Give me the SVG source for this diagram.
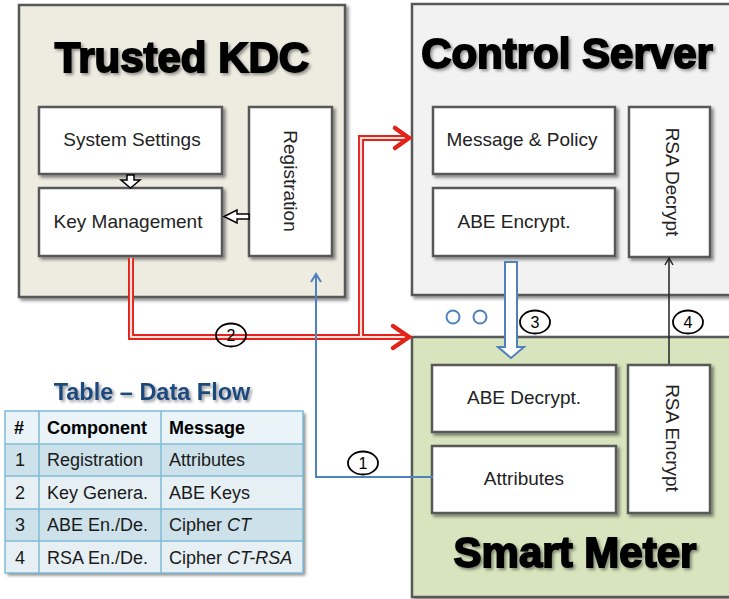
<svg xmlns="http://www.w3.org/2000/svg" width="729" height="599" viewBox="0 0 729 599">
<defs>
<filter id="sh" x="-10%" y="-10%" width="130%" height="130%">
<feDropShadow dx="2.5" dy="2.5" stdDeviation="1.5" flood-color="#000" flood-opacity="0.45"/>
</filter>
<filter id="tsh" x="-10%" y="-20%" width="130%" height="150%">
<feDropShadow dx="2" dy="2" stdDeviation="1.5" flood-color="#000" flood-opacity="0.4"/>
</filter>
<style>
.big{fill:#eeece1;stroke:#595959;stroke-width:2.5}
.inner{fill:#fff;stroke:#595959;stroke-width:2.5}
.title{font-family:"Liberation Sans",Arial,sans-serif;font-weight:bold;font-size:42px;fill:#000;stroke:#000;stroke-width:1.8;text-anchor:middle}
.lbl{font-family:"Liberation Sans",Arial,sans-serif;font-size:19px;fill:#222;text-anchor:middle}
.num{font-family:"Liberation Sans",Arial,sans-serif;font-size:16px;fill:#000;text-anchor:middle}
.red{fill:none;stroke:#e2231a;stroke-width:6}
.redin{fill:none;stroke:#fde0de;stroke-width:2.2}
.redhead{fill:none;stroke:#e2231a;stroke-width:4.5;stroke-linecap:round;stroke-linejoin:miter}
.circ{fill:none;stroke:#000;stroke-width:1.8}
.tt{font-family:"Liberation Sans",Arial,sans-serif;font-size:18px;fill:#1a1a1a}
.th{font-family:"Liberation Sans",Arial,sans-serif;font-size:18px;font-weight:bold;fill:#000}
.cell{stroke:#7fbbd6;stroke-width:1.5}
</style>
</defs>

<g id="trusted-kdc">
<rect class="big" x="19" y="5" width="326" height="292" filter="url(#sh)"/>
<text class="title" x="182" y="72" filter="url(#tsh)">Trusted KDC</text>
</g>
<g id="control-server">
<rect x="412" y="4" width="330" height="291" fill="#f2f2f2" stroke="#595959" stroke-width="2.5" filter="url(#sh)"/>
<text class="title" x="567" y="68" filter="url(#tsh)">Control Server</text>
</g>
<g id="smart-meter">
<rect x="412" y="337" width="330" height="260" fill="#d7e4bd" stroke="#595959" stroke-width="2.5" filter="url(#sh)"/>
<text class="title" x="575" y="567" filter="url(#tsh)">Smart Meter</text>
</g>

<g id="system-settings">
<rect class="inner" x="39" y="107" width="183" height="67" filter="url(#sh)"/>
<text class="lbl" x="132" y="146">System Settings</text>
</g>
<g id="key-management">
<rect class="inner" x="39" y="188" width="183" height="68" filter="url(#sh)"/>
<text class="lbl" x="128" y="228">Key Management</text>
</g>
<g id="registration">
<rect class="inner" x="249" y="107" width="83" height="149" filter="url(#sh)"/>
<text class="lbl" transform="translate(284 181) rotate(90)">Registration</text>
</g>
<g id="message-policy">
<rect class="inner" x="433" y="107" width="182" height="67" filter="url(#sh)"/>
<text class="lbl" x="522" y="146">Message &amp; Policy</text>
</g>
<g id="abe-encrypt">
<rect class="inner" x="433" y="188" width="182" height="68" filter="url(#sh)"/>
<text class="lbl" x="514" y="228">ABE Encrypt.</text>
</g>
<g id="rsa-decrypt">
<rect class="inner" x="629" y="107" width="81" height="150" filter="url(#sh)"/>
<text class="lbl" transform="translate(666 182) rotate(90)">RSA Decrypt</text>
</g>
<g id="abe-decrypt">
<rect class="inner" x="432" y="365" width="184" height="67" filter="url(#sh)"/>
<text class="lbl" x="524" y="404">ABE Decrypt.</text>
</g>
<g id="attributes">
<rect class="inner" x="432" y="446" width="184" height="67" filter="url(#sh)"/>
<text class="lbl" x="524" y="485">Attributes</text>
</g>
<g id="rsa-encrypt">
<rect class="inner" x="628" y="365" width="82" height="148" filter="url(#sh)"/>
<text class="lbl" transform="translate(666 438) rotate(90)">RSA Encrypt</text>
</g>

<g id="connectors">
<polygon points="127,175 134,175 134,180 140,180 130.5,188 121,180 127,180" fill="#fff" stroke="#000" stroke-width="1.5"/>
<polygon points="249,214 237,214 237,210 224,216.5 237,223 237,219 249,219" fill="#fff" stroke="#000" stroke-width="1.5"/>
<path class="red" d="M131,258 V337 H404"/>
<path class="red" d="M361,337 V138 H404"/>
<path class="redin" d="M131,258 V337 H404"/>
<path class="redin" d="M361,337 V138 H404"/>
<polyline class="redhead" points="395,128 409,138 395,148"/>
<polyline class="redhead" points="393,326 409,337 393,348"/>
<ellipse class="circ" cx="231" cy="335" rx="15" ry="11.5"/>
<text class="num" x="231" y="341">2</text>
<path d="M433,477 H316 V275" fill="none" stroke="#4f81bd" stroke-width="2"/>
<polyline points="311,282 316,274 321,282" fill="none" stroke="#4f81bd" stroke-width="2"/>
<ellipse class="circ" cx="363" cy="463" rx="15" ry="11.5"/>
<text class="num" x="363" y="469">1</text>
<polygon points="505,262 517,262 517,347 524,347 511,358 498,347 505,347" fill="#fff" stroke="#4f81bd" stroke-width="2"/>
<ellipse class="circ" cx="535" cy="322" rx="15" ry="11.5"/>
<text class="num" x="535" y="328">3</text>
<path d="M669,364 V259" fill="none" stroke="#222" stroke-width="1.5"/>
<polyline points="665,265 669,258 673,265" fill="none" stroke="#222" stroke-width="1.5"/>
<ellipse class="circ" cx="688" cy="322" rx="15" ry="11.5"/>
<text class="num" x="688" y="328">4</text>
</g>

<g id="dots">
<circle cx="453" cy="317" r="6.5" fill="none" stroke="#4f81bd" stroke-width="2"/>
<circle cx="480" cy="317" r="6.5" fill="none" stroke="#4f81bd" stroke-width="2"/>
</g>

<g id="data-flow-table">
<text x="152" y="400" text-anchor="middle" font-family="'Liberation Sans',Arial,sans-serif" font-weight="bold" font-size="23.5" fill="#1f497d" filter="url(#tsh)">Table – Data Flow</text>
<g filter="url(#sh)">
<rect x="5" y="411" width="298" height="162" fill="#e9f2f6"/>
</g>
<rect x="5" y="411" width="298" height="33" fill="#eaf3f7"/>
<rect x="5" y="444" width="298" height="32" fill="#cde1ea"/>
<rect x="5" y="476" width="298" height="33" fill="#e6f0f4"/>
<rect x="5" y="509" width="298" height="32" fill="#cde1ea"/>
<rect x="5" y="541" width="298" height="32" fill="#e6f0f4"/>
<g class="cell" fill="none">
<rect x="5" y="411" width="298" height="162"/>
<line x1="5" y1="444" x2="303" y2="444"/>
<line x1="5" y1="476" x2="303" y2="476"/>
<line x1="5" y1="509" x2="303" y2="509"/>
<line x1="5" y1="541" x2="303" y2="541"/>
<line x1="39" y1="411" x2="39" y2="573"/>
<line x1="161" y1="411" x2="161" y2="573"/>
</g>
<text class="th" x="14" y="434">#</text>
<text class="th" x="47" y="434">Component</text>
<text class="th" x="169" y="434">Message</text>
<text class="tt" x="15" y="466">1</text>
<text class="tt" x="47" y="466">Registration</text>
<text class="tt" x="169" y="466">Attributes</text>
<text class="tt" x="15" y="499">2</text>
<text class="tt" x="47" y="499">Key Genera.</text>
<text class="tt" x="169" y="499">ABE Keys</text>
<text class="tt" x="15" y="531">3</text>
<text class="tt" x="47" y="531">ABE En./De.</text>
<text class="tt" x="169" y="531">Cipher <tspan font-style="italic">CT</tspan></text>
<text class="tt" x="15" y="564">4</text>
<text class="tt" x="47" y="564">RSA En./De.</text>
<text class="tt" x="169" y="564">Cipher <tspan font-style="italic">CT-RSA</tspan></text>
</g>
</svg>
